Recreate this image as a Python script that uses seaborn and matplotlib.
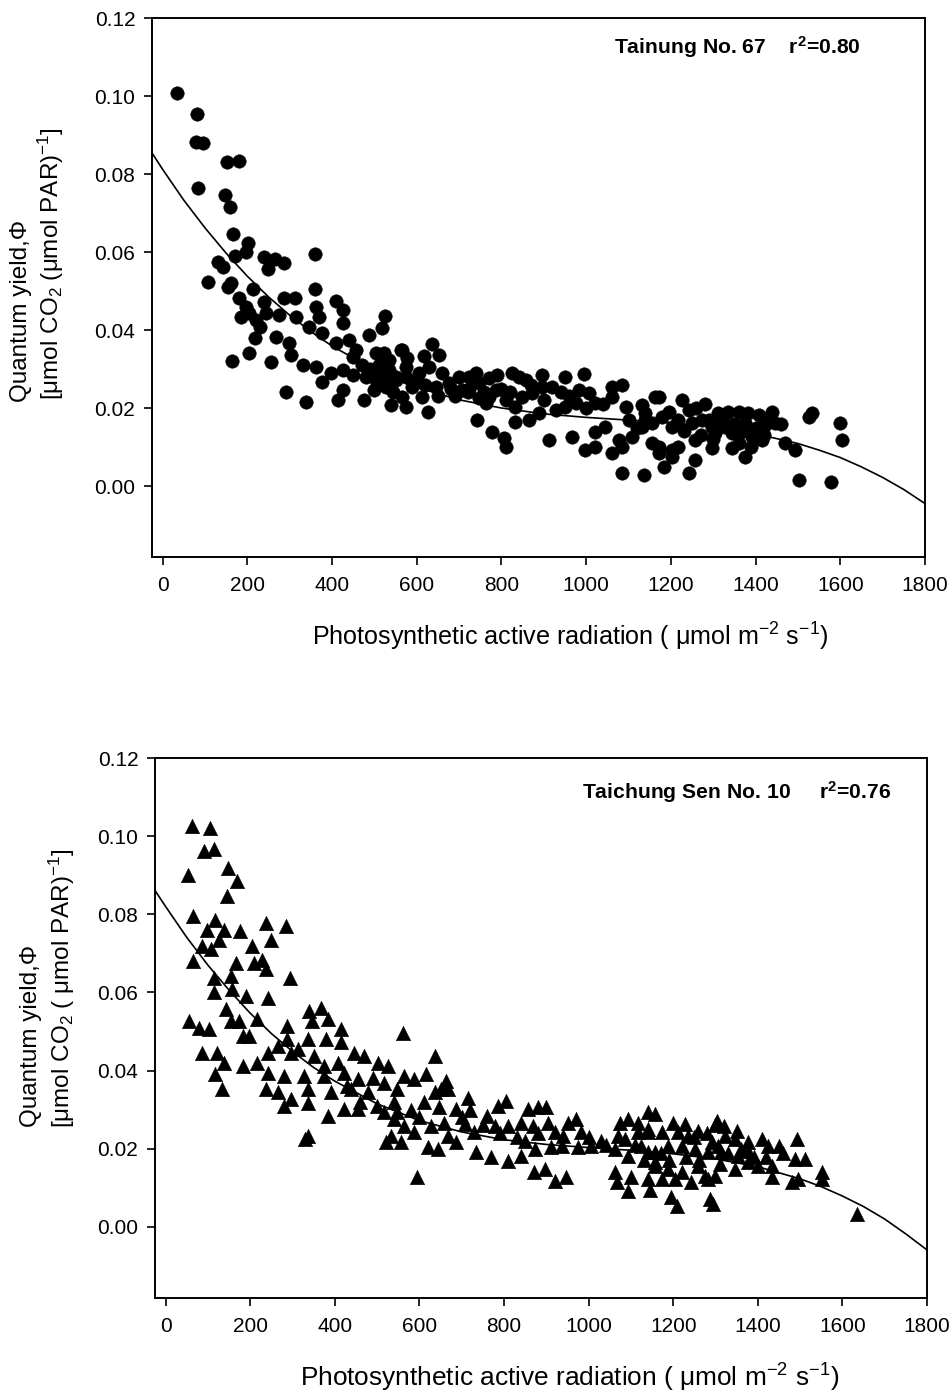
import numpy as np
import pandas as pd
import matplotlib
matplotlib.use("Agg")
import matplotlib.pyplot as plt
import seaborn as sns

# ---------------- data ----------------
# Tainung No. 67 (circles)
t67_par = [34, 82, 79, 95, 152, 181, 84, 148, 158, 166, 201, 197, 171, 130, 142, 240, 266, 287, 250, 360,
           108, 154, 162, 213, 360, 181, 197, 185, 205, 240, 287, 313, 244, 276, 315, 409, 425, 425, 362, 370,
           525, 519, 488, 221, 229, 268, 299, 346, 377, 409, 440, 456, 503, 535, 566, 217, 204, 163, 256, 303,
           331, 362, 377, 397, 425, 449, 480, 503, 519, 551, 574, 291, 339, 425, 413, 476, 539, 574, 500, 543,
           562, 578, 637, 653, 617, 523, 535, 527, 551, 574, 605, 629, 660, 676, 700, 723, 747, 708, 645, 589,
           613, 566, 627, 770, 790, 825, 841, 857, 786, 770, 810, 833, 849, 873, 896, 896, 920, 951, 994, 983,
           1006, 1061, 1085, 1061, 1022, 975, 951, 928, 888, 865, 833, 743, 778, 806, 810, 723, 747, 763, 912, 967,
           998, 1022, 1061, 1085, 1108, 1132, 1140, 1155, 1171, 1077, 1132, 1163, 1093, 1045, 1022,
           1171, 1140, 1155, 1179, 1195, 1226, 1242, 1218, 1250, 1203, 1273, 1297, 1312, 1336, 1360, 1383, 1407,
           1438, 1446, 1422, 1375, 1328, 1304, 1344, 1391, 1414, 1171, 1203, 1218, 1203, 1257, 1297, 1344, 1375,
           1257, 1242, 1183, 1136, 1470, 1493, 1525, 1533, 1599, 1605, 1503, 1577, 1085,
           450, 470, 490, 510, 530, 600, 620, 650, 680, 690, 720, 740, 760, 800, 820, 870, 900, 940, 960, 1000,
           1040, 1100, 1120, 1230, 1270, 1290, 1320, 1350, 1370, 1400, 1430, 1460, 1260, 1280, 1300, 1360, 1390, 1420]
t67_qy = [0.1007, 0.0953, 0.0883, 0.0880, 0.0830, 0.0834, 0.0764, 0.0746, 0.0716, 0.0645, 0.0622, 0.0601, 0.0590,
          0.0575, 0.0562, 0.0588, 0.0581, 0.0571, 0.0556, 0.0594, 0.0522, 0.0511, 0.0520, 0.0504, 0.0505, 0.0481,
          0.0460, 0.0434, 0.0443, 0.0473, 0.0481, 0.0483, 0.0443, 0.0438, 0.0434, 0.0475, 0.0451, 0.0417, 0.0460,
          0.0434, 0.0436, 0.0404, 0.0387, 0.0426, 0.0408, 0.0383, 0.0366, 0.0408, 0.0392, 0.0366, 0.0374, 0.0349,
          0.0340, 0.0323, 0.0349, 0.0379, 0.0340, 0.0321, 0.0319, 0.0336, 0.0310, 0.0306, 0.0267, 0.0289, 0.0297,
          0.0285, 0.0280, 0.0272, 0.0289, 0.0272, 0.0280, 0.0242, 0.0216, 0.0246, 0.0221, 0.0221, 0.0208, 0.0203,
          0.0246, 0.0242,
          0.0349, 0.0327, 0.0364, 0.0336, 0.0333, 0.0340, 0.0297, 0.0255, 0.0280, 0.0306, 0.0289, 0.0306, 0.0289,
          0.0263, 0.0280, 0.0280, 0.0263, 0.0246, 0.0255, 0.0255, 0.0229, 0.0229, 0.0191, 0.0276, 0.0285, 0.0289,
          0.0280, 0.0272, 0.0246, 0.0229, 0.0221, 0.0203, 0.0229, 0.0238, 0.0285, 0.0255, 0.0255, 0.0280, 0.0286,
          0.0246, 0.0238, 0.0255, 0.0259, 0.0229, 0.0212, 0.0212, 0.0203, 0.0195, 0.0186, 0.0169, 0.0165, 0.0169,
          0.0139, 0.0122, 0.0099, 0.0250, 0.0225, 0.0212, 0.0118, 0.0126, 0.0092, 0.0101, 0.0084, 0.0101, 0.0126,
          0.0152, 0.0186, 0.0110, 0.0101, 0.0118, 0.0208, 0.0229, 0.0203, 0.0152, 0.0139,
          0.0229, 0.0169, 0.0161, 0.0178, 0.0191, 0.0221, 0.0195, 0.0169, 0.0161, 0.0152, 0.0169, 0.0152, 0.0186,
          0.0191, 0.0191, 0.0186, 0.0182, 0.0191, 0.0161, 0.0156, 0.0161, 0.0152, 0.0135, 0.0135, 0.0126, 0.0118,
          0.0084, 0.0092, 0.0101, 0.0075, 0.0118, 0.0097, 0.0097, 0.0075, 0.0067, 0.0033, 0.0050, 0.0028, 0.0110,
          0.0092, 0.0178, 0.0186, 0.0162, 0.0118, 0.0015, 0.0011, 0.0033,
          0.0330, 0.0310, 0.0300, 0.0310, 0.0280, 0.0270, 0.0260, 0.0230, 0.0250, 0.0230, 0.0240, 0.0290, 0.0240,
          0.0250, 0.0240, 0.0260, 0.0220, 0.0240, 0.0230, 0.0200, 0.0210, 0.0170, 0.0150, 0.0140, 0.0130, 0.0170,
          0.0170, 0.0160, 0.0140, 0.0150, 0.0170, 0.0160, 0.0200, 0.0210, 0.0120, 0.0110, 0.0100, 0.0130]

# Taichung Sen No. 10 (triangles)
tc10_par = [63, 105, 92, 114, 53, 148, 168, 146, 66, 118, 99, 138, 126, 107, 87, 66, 176, 237, 284, 250,
            205, 209, 229, 237, 166, 154, 114, 114, 158, 142, 189, 242, 294, 55, 79, 103, 154, 174, 182, 197,
            216, 87, 122, 138, 118, 134, 182, 237, 287, 339, 367, 383, 347, 415, 379, 415, 336, 288, 562, 217,
            241, 265, 296, 312, 351, 375, 407, 446, 470, 501, 525, 564, 241, 280, 328, 375, 422, 454, 517, 548,
            265, 296, 336, 391, 438, 478, 280, 336, 383, 422, 454, 517, 548, 336, 330,
            636, 588, 616, 663, 652, 636, 667, 716, 647, 687, 659, 707, 628, 588, 564, 541, 533, 557, 521, 620,
            643, 594, 687, 667, 730, 761, 785, 805, 778, 809, 841, 869, 857, 880, 900, 904, 920, 951, 971, 940,
            975, 1006, 1030, 983, 734, 770, 809, 841, 873, 912, 936, 871, 896, 920, 947, 1074, 1094, 1117, 1141,
            1157, 1070, 1086, 1117, 1141, 1062, 1094, 1141, 1062, 1101, 1141, 1157, 1094, 1145, 1066,
            1200, 1228, 1259, 1319, 1350, 1141, 1173, 1212, 1236, 1291, 1307, 1322, 1346, 1377, 1409, 1425, 1449,
            1493, 1125, 1157, 1188, 1220, 1251, 1283, 1314, 1354, 1377, 1401, 1433, 1488, 1512, 1157, 1188, 1220,
            1259, 1275, 1299, 1346, 1377, 1433, 1480, 1496, 1551, 1551, 1173, 1204, 1243, 1283, 1196, 1208, 1287,
            1295, 1634,
            430, 460, 490, 500, 540, 580, 600, 610, 700, 720, 750, 790, 830, 850, 880, 1000, 1040, 1110, 1130, 1170,
            1190, 1230, 1260, 1310, 1330, 1360, 1390, 1420, 1460, 1250, 1280, 1300, 1303]
tc10_qy = [0.1025, 0.1020, 0.0961, 0.0967, 0.0901, 0.0918, 0.0884, 0.0846, 0.0795, 0.0786, 0.0761, 0.0761, 0.0735,
           0.0710, 0.0718, 0.0680, 0.0756, 0.0779, 0.0769, 0.0735, 0.0718, 0.0676, 0.0684, 0.0659, 0.0676, 0.0643,
           0.0638, 0.0601, 0.0608, 0.0558, 0.0590, 0.0586, 0.0638, 0.0527, 0.0510, 0.0506, 0.0527, 0.0527, 0.0488,
           0.0488, 0.0531, 0.0446, 0.0446, 0.0420, 0.0391, 0.0352, 0.0412, 0.0352, 0.0514, 0.0552, 0.0561, 0.0531,
           0.0527, 0.0506, 0.0480, 0.0472, 0.0480, 0.0480, 0.0497, 0.0420, 0.0446, 0.0463, 0.0446, 0.0454, 0.0437,
           0.0412, 0.0420, 0.0446, 0.0437, 0.0420, 0.0412, 0.0386, 0.0395, 0.0386, 0.0386, 0.0386, 0.0395, 0.0378,
           0.0369, 0.0352, 0.0344, 0.0327, 0.0352, 0.0344, 0.0352, 0.0344, 0.0310, 0.0318, 0.0284, 0.0301, 0.0301,
           0.0293, 0.0293, 0.0232, 0.0225,
           0.0437, 0.0378, 0.0391, 0.0374, 0.0352, 0.0344, 0.0352, 0.0331, 0.0306, 0.0301, 0.0267, 0.0263, 0.0259,
           0.0242, 0.0259, 0.0276, 0.0233, 0.0216, 0.0216, 0.0204, 0.0199, 0.0127, 0.0216, 0.0233, 0.0242, 0.0284,
           0.0310, 0.0322, 0.0259, 0.0259, 0.0267, 0.0259, 0.0301, 0.0306, 0.0307, 0.0267, 0.0242, 0.0267, 0.0276,
           0.0233, 0.0204, 0.0208, 0.0220, 0.0242, 0.0191, 0.0178, 0.0169, 0.0182, 0.0199, 0.0204, 0.0208, 0.0140,
           0.0148, 0.0118, 0.0127, 0.0267, 0.0276, 0.0267, 0.0293, 0.0288, 0.0233, 0.0225, 0.0242, 0.0242, 0.0199,
           0.0182, 0.0191, 0.0140, 0.0127, 0.0123, 0.0165, 0.0093, 0.0095, 0.0114,
           0.0267, 0.0263, 0.0246, 0.0259, 0.0246, 0.0250, 0.0242, 0.0242, 0.0233, 0.0216, 0.0208, 0.0233, 0.0225,
           0.0216, 0.0225, 0.0208, 0.0208, 0.0225, 0.0208, 0.0191, 0.0208, 0.0208, 0.0199, 0.0191, 0.0191, 0.0182,
           0.0195, 0.0156, 0.0156, 0.0174, 0.0174, 0.0156, 0.0148, 0.0140, 0.0156, 0.0131, 0.0131, 0.0148, 0.0165,
           0.0127, 0.0114, 0.0123, 0.0140, 0.0123, 0.0123, 0.0123, 0.0114, 0.0123, 0.0076, 0.0054, 0.0071, 0.0059,
           0.0033,
           0.0360, 0.0320, 0.0380, 0.0310, 0.0320, 0.0300, 0.0280, 0.0320, 0.0280, 0.0300, 0.0260, 0.0240, 0.0230,
           0.0220, 0.0240, 0.0230, 0.0210, 0.0210, 0.0170, 0.0190, 0.0170, 0.0180, 0.0170, 0.0160, 0.0190, 0.0200,
           0.0180, 0.0180, 0.0190, 0.0230, 0.0240, 0.0260, 0.0270]

# fitted regression curves
fit_par = [-25, 0, 50, 100, 150, 200, 250, 300, 350, 400, 500, 600, 700, 800, 900, 1000, 1100, 1200, 1300,
           1400, 1500, 1550, 1600, 1650, 1700, 1750, 1800]
t67_fit = [0.0854, 0.0812, 0.0733, 0.0662, 0.0597, 0.0538, 0.0485, 0.0438, 0.0396, 0.0359, 0.0298, 0.0253,
           0.0221, 0.0200, 0.0185, 0.0176, 0.0169, 0.0162, 0.0151, 0.0134, 0.0109, 0.0092, 0.0073, 0.0049,
           0.0022, -0.0009, -0.0045]
tc10_fit = [0.0861, 0.0820, 0.0741, 0.0670, 0.0606, 0.0547, 0.0495, 0.0449, 0.0408, 0.0373, 0.0315, 0.0272,
            0.0243, 0.0223, 0.0211, 0.0203, 0.0196, 0.0187, 0.0174, 0.0154, 0.0123, 0.0103, 0.0079, 0.0052,
            0.0020, -0.0018, -0.0059]

x_ticks = [0, 200, 400, 600, 800, 1000, 1200, 1400, 1600, 1800]
y_ticks = [0.00, 0.02, 0.04, 0.06, 0.08, 0.10, 0.12]

# ---------------- style ----------------
sns.set_style("ticks")
plt.rcParams['font.family'] = ['Liberation Sans', 'DejaVu Sans']
plt.rcParams['mathtext.fontset'] = 'custom'
plt.rcParams['mathtext.rm'] = 'Liberation Sans'
plt.rcParams['mathtext.it'] = 'Liberation Sans:italic'
plt.rcParams['mathtext.bf'] = 'Liberation Sans:bold'
plt.rcParams['text.color'] = 'black'
plt.rcParams['axes.labelcolor'] = 'black'
plt.rcParams['xtick.color'] = 'black'
plt.rcParams['ytick.color'] = 'black'

W, H = 953, 1393
fig = plt.figure(figsize=(W / 100, H / 100), dpi=100)

def px_box(l, t, r, b):
    return [l / W, 1 - b / H, (r - l) / W, (b - t) / H]

ax1 = fig.add_axes(px_box(152, 18, 925, 557))
ax2 = fig.add_axes(px_box(155, 758, 927, 1298))

df1 = pd.DataFrame({'par': t67_par, 'qy': t67_qy})
df2 = pd.DataFrame({'par': tc10_par, 'qy': tc10_qy})
fit1 = pd.DataFrame({'par': fit_par, 'qy': t67_fit})
fit2 = pd.DataFrame({'par': fit_par, 'qy': tc10_fit})

sns.scatterplot(data=df1, x='par', y='qy', ax=ax1, marker='o', s=95, color='black',
                edgecolor='black', linewidth=0.3, zorder=3)
sns.lineplot(data=fit1, x='par', y='qy', ax=ax1, color='black', linewidth=1.2, zorder=4)

sns.scatterplot(data=df2, x='par', y='qy', ax=ax2, marker='^', s=110, color='black',
                edgecolor='black', linewidth=0.3, zorder=3)
sns.lineplot(data=fit2, x='par', y='qy', ax=ax2, color='black', linewidth=1.2, zorder=4)

xlab = 'Photosynthetic active radiation ( μmol m$^{-2}$ s$^{-1}$)'
for ax, xfs, lx in ((ax1, 18.1, (570 - 152) / 773), (ax2, 18.9, (570 - 155) / 772)):
    ax.set_xlim(-25, 1800)
    ax.set_ylim(-0.0182, 0.12)
    ax.set_xticks(x_ticks)
    ax.set_yticks(y_ticks)
    ax.set_xticklabels([str(v) for v in x_ticks])
    ax.set_yticklabels([f'{v:.2f}' for v in y_ticks])
    for sp in ax.spines.values():
        sp.set_visible(True)
        sp.set_color('black')
        sp.set_linewidth(1.4)
    ax.tick_params(axis='both', direction='out', length=6, width=1.2, color='black',
                   labelsize=15, labelcolor='black', top=False, right=False, pad=6)
    ax.tick_params(axis='x', pad=8)
    ax.set_xlabel(xlab, fontsize=xfs, labelpad=18, color='black')
    ax.xaxis.label.set_x(lx)
    ax.set_ylabel('')
    ax.grid(False)

ax1.text(1065, 0.1126, 'Tainung No. 67    r$^{\\mathbf{2}}$=0.80', fontsize=15.2, fontweight='bold',
         family=['Liberation Sans Narrow', 'Liberation Sans'], ha='left', va='center', color='black')
ax2.text(985, 0.1113, 'Taichung Sen No. 10     r$^{\\mathbf{2}}$=0.76', fontsize=15.2, fontweight='bold',
         family=['Liberation Sans Narrow', 'Liberation Sans'], ha='left', va='center', color='black')

# y labels (two lines, start-aligned at the bottom)
fig.text(21 / W, 1 - 402 / H, 'Quantum yield,Φ', rotation=90, ha='center', va='bottom', fontsize=17.5)
fig.text(51 / W, 1 - 400 / H, '[μmol CO$_2$ (μmol PAR)$^{-1}$]', rotation=90, ha='center', va='bottom', fontsize=17.5)
fig.text(31 / W, 1 - 1127 / H, 'Quantum yield,Φ', rotation=90, ha='center', va='bottom', fontsize=17.5)
fig.text(62 / W, 1 - 1128 / H, '[μmol CO$_2$ ( μmol PAR)$^{-1}$]', rotation=90, ha='center', va='bottom', fontsize=17.5)

fig.savefig('out.png', dpi=100, facecolor='white')
